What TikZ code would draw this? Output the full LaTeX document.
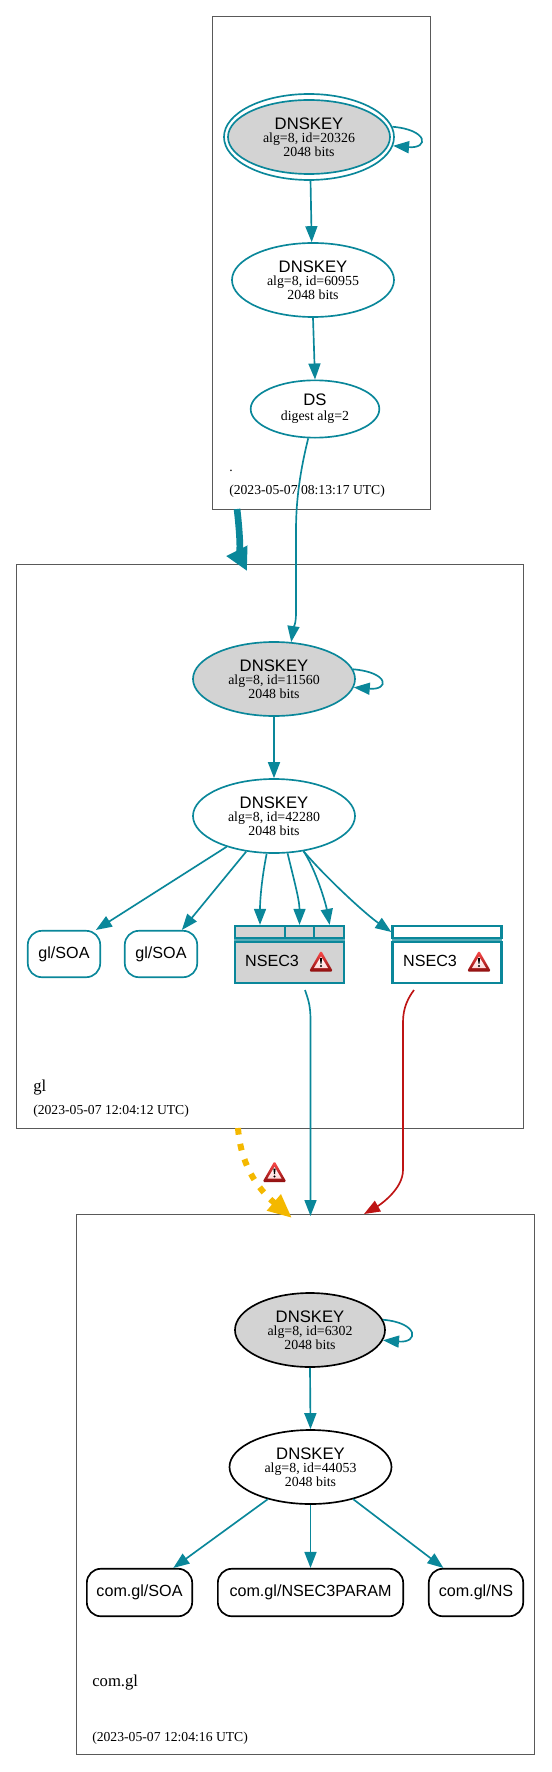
\documentclass[tikz,border=0pt]{standalone}
\usepackage{fontspec}
\setmainfont{Liberation Serif}
\newfontfamily\lsf{Liberation Sans}
\usetikzlibrary{arrows.meta,shapes.geometric,calc}
\definecolor{teal1}{HTML}{0A879A}
\definecolor{red1}{HTML}{BE1414}
\definecolor{yel1}{HTML}{F4B800}
\definecolor{gray1}{HTML}{D3D3D3}
\tikzset{
 zone/.style={draw=black!65,line width=0.7pt,fill=none},
 keyn/.style={ellipse,draw=teal1,line width=1.25pt,inner sep=0pt,align=center,font=\fontsize{10.4}{10.1}\selectfont,minimum width=121.5pt,minimum height=55.5pt},
 dsn/.style={keyn,minimum width=96.5pt,minimum height=43pt},
 blk/.style={draw=black},
 grayf/.style={fill=gray1},
 rr/.style={rectangle,rounded corners=10.5pt,draw=teal1,line width=1.25pt,inner sep=0pt,font=\lsf\fontsize{12.1}{14}\selectfont},
 cell/.style={rectangle,draw=teal1,line width=1.7pt,inner sep=0pt},
 backing/.style={rectangle,fill=teal1!70,inner sep=0pt},
 lbl/.style={inner sep=0pt,anchor=base west,font=\fontsize{10.25}{12}\selectfont},
 lblb/.style={inner sep=0pt,anchor=base west,font=\fontsize{12.5}{14}\selectfont},
 ed/.style={draw=teal1,line width=1.25pt,-{Triangle[length=12pt,width=9pt]}},
 edr/.style={ed,draw=red1},
 thick1/.style={draw=teal1,line width=5pt,-{Triangle[length=17pt,width=16.5pt]}},
 yel/.style={draw=yel1,line width=4.5pt,dash pattern=on 5pt off 7pt,-{Triangle[length=18pt,width=15pt]}},
 warnicon/.pic={
  \shade[top color=red!70!white,bottom color=red1!75!black,rounded corners=1.2pt] (0,-10.5) -- (12,10.5) -- (-12,10.5) -- cycle;
  \shade[top color=white,bottom color=white!85!red] (0,-4.5) -- (7,7) -- (-7,7) -- cycle;
  \fill[black] (-1.1,-2.8) -- (1.1,-2.8) -- (0.5,2.6) -- (-0.5,2.6) -- cycle;
  \fill[black] (0,5) circle (1.1);
 }
}
\newcommand\keytxt[3]{{\lsf\fontsize{12.5}{13}\selectfont #1}\\#2\\#3}
\begin{document}
\begin{tikzpicture}[x=0.75pt,y=-0.75pt]
\useasboundingbox (0,0) rectangle (551,1772);
% zones
\draw[zone] (212,16) rectangle (430,509);
\draw[zone] (16,564) rectangle (523,1128);
\draw[zone] (76,1214) rectangle (534,1754);
\node[lbl] (zl1) at (229,471) {.};
\node[lbl] (zd1) at (229,494) {(2023-05-07 08:13:17 UTC)};
\node[lblb] (zl2) at (33,1091) {gl};
\node[lbl] (zd2) at (33,1114) {(2023-05-07 12:04:12 UTC)};
\node[lblb] (zl3) at (92,1686) {com.gl};
\node[lbl] (zd3) at (92,1741) {(2023-05-07 12:04:16 UTC)};
% root keys
\node[ellipse,draw=teal1,line width=1.25pt,minimum width=127.5pt,minimum height=64.5pt,inner sep=0pt] (kskout) at (309,137) {};
\node[keyn,grayf] (ksk) at (309,137) {\keytxt{DNSKEY}{alg=8, id=20326}{2048 bits}};
\node[keyn] (zsk) at (313,280) {\keytxt{DNSKEY}{alg=8, id=60955}{2048 bits}};
\node[dsn,font=\fontsize{10.4}{11}\selectfont] (ds) at (315,409) {{\lsf\fontsize{12.5}{13}\selectfont DS}\\digest alg=2};
% gl keys
\node[keyn,grayf] (gk) at (274,679) {\keytxt{DNSKEY}{alg=8, id=11560}{2048 bits}};
\node[keyn] (gz) at (274,816) {\keytxt{DNSKEY}{alg=8, id=42280}{2048 bits}};
\node[rr,minimum width=54.3pt,minimum height=34.8pt] (soa1) at (64,954) {gl/SOA};
\node[rr,minimum width=54.3pt,minimum height=34.8pt] (soa2) at (161,954) {gl/SOA};
% NSEC3 boxes
\node[backing,minimum width=83pt,minimum height=44pt] (b1) at (289.5,954.5) {};
\node[backing,minimum width=83pt,minimum height=44pt] (b2) at (447,954.5) {};
\node[cell,fill=gray1,minimum width=37.5pt,minimum height=9pt] (c1) at (260,932) {};
\node[cell,fill=gray1,minimum width=21.75pt,minimum height=9pt] (c2) at (299.5,932) {};
\node[cell,fill=gray1,minimum width=22.5pt,minimum height=9pt] (c3) at (329,932) {};
\node[cell,fill=gray1,minimum width=81.75pt,minimum height=30.75pt] (n1) at (289.5,962.5) {};
\node[font=\lsf\fontsize{12.1}{14}\selectfont,inner sep=0pt] (n1t) at (272,961) {NSEC3};
\pic at (321,961) {warnicon};
\node[cell,fill=white,minimum width=81.75pt,minimum height=9pt] (c4) at (447,932) {};
\node[cell,fill=white,minimum width=81.75pt,minimum height=30.75pt] (n2) at (447,962.5) {};
\node[font=\lsf\fontsize{12.1}{14}\selectfont,inner sep=0pt] (n2t) at (430,961) {NSEC3};
\pic at (479,961) {warnicon};
% com.gl keys
\node[keyn,grayf,blk,minimum width=112.5pt] (ck) at (310,1330) {\keytxt{DNSKEY}{alg=8, id=6302}{2048 bits}};
\node[keyn,blk] (cz) at (310.5,1467) {\keytxt{DNSKEY}{alg=8, id=44053}{2048 bits}};
\node[rr,blk,minimum width=79pt,minimum height=35.6pt] (c1b) at (139.5,1592.5) {com.gl/SOA};
\node[rr,blk,minimum width=139pt,minimum height=35.6pt] (c2b) at (310.5,1592.5) {com.gl/NSEC3PARAM};
\node[rr,blk,minimum width=70.8pt,minimum height=35.6pt] (c3b) at (476,1592.5) {com.gl/NS};
% helper coordinates
\coordinate (dsa) at (296,530);
\coordinate (dsb) at (296,613);
\coordinate (n1o) at (305,990);
\coordinate (n1d) at (310.5,1020);
\coordinate (n2o) at (414,990);
\coordinate (n2d) at (403,1022);
\coordinate (n2e) at (403,1170);
\coordinate (rt) at (364,1214);
\coordinate (tt) at (310.5,1216);
\coordinate (ys) at (238,1128);
\coordinate (yt) at (292,1218);
\coordinate (ts) at (237,509);
\coordinate (tk) at (247,571);
% edges
\draw[ed] (kskout.-88) to (zsk.92);
\draw[ed] (zsk.south) to (ds.north);
\draw[ed] (kskout.7) .. controls +(36,3) and +(36,3) .. (kskout.-6);
\draw[ed] (ds.-103) .. controls +(-8,32) and (296,500) .. (dsa) -- (dsb) .. controls +(0,12) and +(2,-14) .. (gk.65);
\draw[ed] (gk.7) .. controls +(36,3) and +(36,3) .. (gk.-6);
\draw[ed] (gk.south) to (gz.north);
\draw[ed] (gz.-147) to (soa1.37);
\draw[ed] (gz.-128) to (soa2.49);
\draw[ed] (gz.-101) .. controls +(-5,25) and +(0,-25) .. (c1.north);
\draw[ed] (gz.-70) .. controls +(6,25) and +(0,-25) .. (c2.north);
\draw[ed] (gz.-50) .. controls +(12,18) and +(-4,-22) .. (c3.85);
\draw[ed] (gz.-50) .. controls +(22,26) and +(-26,-18) .. (c4.west);
\draw[ed] (n1o) .. controls +(3,9) and (310.5,1005) .. (n1d) -- (tt);
\draw[edr] (n2o) .. controls +(-6,8) and +(0,-14) .. (n2d) -- (n2e) .. controls +(0,20) and +(14,-8) .. (rt);
\draw[thick1] (ts) .. controls +(2,16) and +(-5,-10) .. (tk);
\draw[yel] (ys) .. controls (240,1155) and (250,1182) .. (yt);
\pic at (274.5,1171.5) {warnicon};
\draw[ed] (ck.8) .. controls +(36,3) and +(36,3) .. (ck.-8);
\draw[ed] (ck.south) to (cz.north);
\draw[ed] (cz.-143) to (c1b.36);
\draw[ed] (cz.south) to (c2b.north);
\draw[ed] (cz.-37) to (c3b.143);
\end{tikzpicture}
\end{document}
